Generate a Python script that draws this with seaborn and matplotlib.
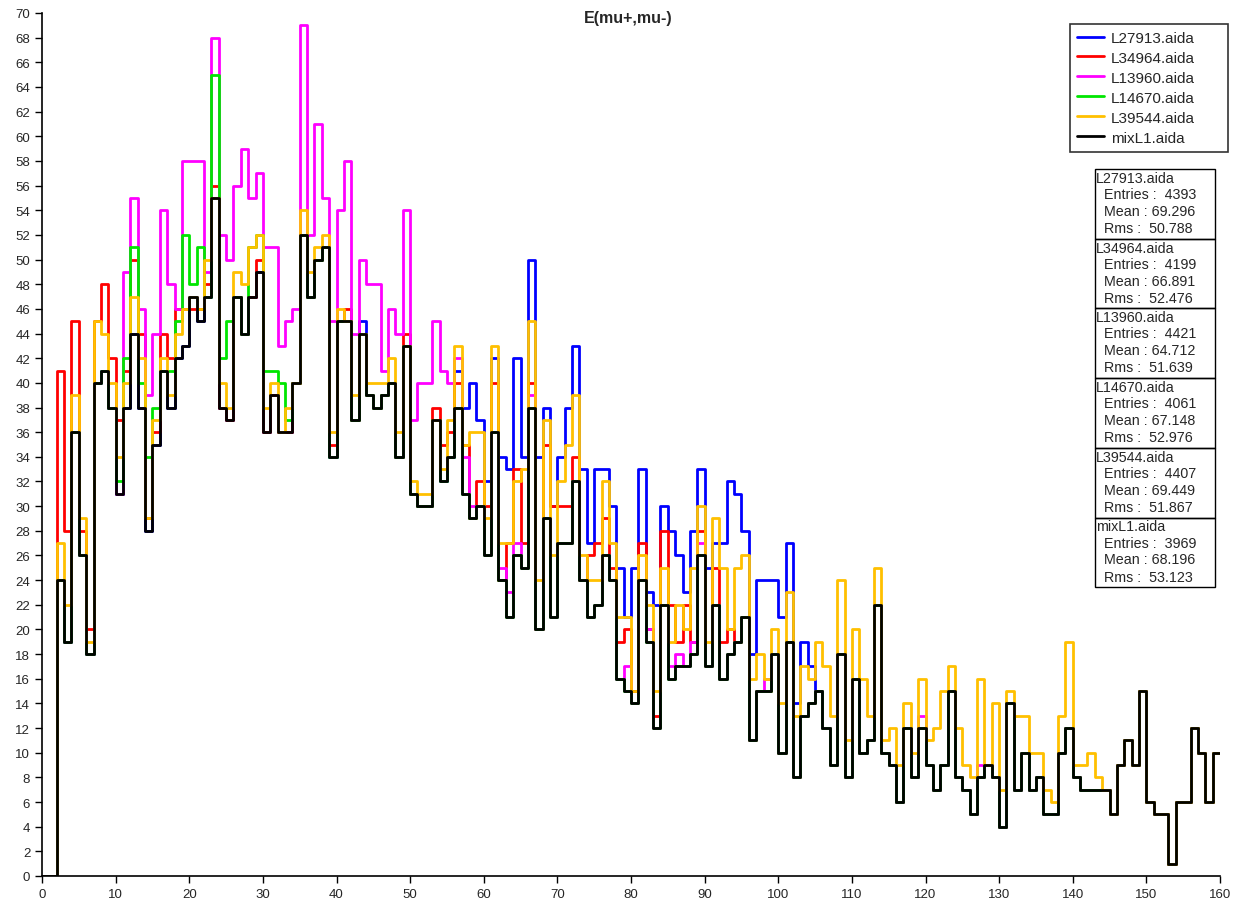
import numpy as np
import pandas as pd
import matplotlib
matplotlib.use("Agg")
import matplotlib.pyplot as plt
import seaborn as sns
from matplotlib.lines import Line2D
from matplotlib.patches import Rectangle

# histogram bins: width 1, from 0 to 160
bin_lo, bin_hi = 0, 160
bin_centers = np.arange(bin_lo, bin_hi) + 0.5

# counts per bin
L27913 = [0, 0, 24, 19, 36, 26, 18, 40, 41, 38, 31, 38, 44, 38, 28, 35, 41, 38, 42, 43,
          47, 45, 47, 55, 38, 37, 47, 44, 47, 49, 36, 39, 36, 36, 40, 52, 47, 50, 51, 34,
          45, 45, 37, 45, 39, 38, 39, 40, 34, 43, 31, 30, 30, 37, 32, 34, 41, 38, 40, 37,
          32, 42, 34, 33, 42, 34, 50, 34, 38, 30, 34, 38, 43, 33, 27, 33, 33, 30, 25, 21,
          25, 33, 23, 22, 30, 28, 26, 23, 28, 33, 25, 27, 27, 32, 31, 28, 18, 24, 24, 24,
          21, 27, 14, 19, 17, 15, 12, 9, 18, 8, 16, 10, 11, 22, 10, 9, 6, 12, 8, 12,
          9, 7, 9, 15, 8, 7, 5, 8, 9, 8, 4, 14, 7, 10, 7, 8, 5, 5, 10, 12,
          8, 7, 7, 7, 7, 5, 9, 11, 9, 15, 6, 5, 5, 1, 6, 6, 12, 10, 6, 10]

L34964 = [0, 0, 41, 28, 45, 28, 20, 45, 48, 42, 37, 41, 50, 44, 29, 36, 44, 42, 46, 46,
          46, 46, 48, 56, 38, 37, 47, 44, 47, 50, 36, 39, 36, 36, 40, 52, 47, 50, 51, 35,
          45, 46, 37, 44, 39, 38, 39, 40, 34, 44, 31, 30, 30, 38, 35, 36, 40, 35, 29, 32,
          30, 40, 24, 27, 33, 27, 40, 20, 35, 30, 30, 30, 34, 24, 26, 27, 29, 25, 19, 20,
          15, 27, 20, 13, 28, 22, 19, 22, 19, 28, 17, 25, 19, 20, 19, 21, 11, 15, 15, 18,
          10, 19, 8, 13, 14, 15, 12, 9, 18, 8, 16, 10, 11, 22, 10, 9, 6, 12, 8, 12,
          9, 7, 9, 15, 8, 7, 5, 8, 9, 8, 4, 14, 7, 10, 7, 8, 5, 5, 10, 12,
          8, 7, 7, 7, 7, 5, 9, 11, 9, 15, 6, 5, 5, 1, 6, 6, 12, 10, 6, 10]

L13960 = [0, 0, 24, 19, 36, 26, 18, 40, 41, 38, 31, 49, 55, 46, 39, 44, 54, 48, 46, 58,
          58, 58, 49, 68, 52, 50, 56, 59, 55, 57, 51, 51, 43, 45, 46, 69, 52, 61, 55, 45,
          54, 58, 44, 50, 48, 48, 41, 46, 44, 54, 37, 40, 40, 45, 41, 40, 42, 34, 30, 30,
          26, 36, 25, 23, 27, 25, 39, 20, 29, 21, 27, 27, 32, 24, 21, 22, 26, 24, 16, 17,
          14, 24, 20, 12, 22, 17, 18, 17, 19, 27, 17, 22, 16, 18, 19, 21, 11, 15, 16, 18,
          10, 19, 8, 13, 14, 15, 12, 9, 18, 8, 16, 10, 11, 22, 10, 9, 6, 12, 8, 13,
          9, 7, 9, 15, 8, 7, 5, 9, 9, 8, 4, 14, 7, 10, 7, 8, 5, 5, 10, 12,
          8, 7, 7, 7, 7, 5, 9, 11, 9, 15, 6, 5, 5, 1, 6, 6, 12, 10, 6, 10]

L14670 = [0, 0, 24, 19, 36, 26, 18, 40, 41, 38, 32, 42, 51, 40, 34, 38, 41, 41, 45, 52,
          48, 51, 47, 65, 42, 45, 47, 44, 51, 52, 41, 41, 40, 37, 40, 52, 47, 50, 51, 34,
          45, 45, 37, 44, 39, 38, 39, 40, 34, 43, 31, 30, 30, 37, 32, 34, 38, 31, 29, 30,
          26, 36, 24, 21, 26, 25, 38, 20, 29, 21, 27, 27, 32, 24, 21, 22, 26, 24, 16, 15,
          14, 24, 19, 12, 22, 16, 17, 17, 18, 26, 17, 22, 16, 18, 19, 21, 11, 15, 15, 18,
          10, 19, 8, 13, 14, 15, 12, 9, 18, 8, 16, 10, 11, 22, 10, 9, 6, 12, 8, 12,
          9, 7, 9, 15, 8, 7, 5, 8, 9, 8, 4, 14, 7, 10, 7, 8, 5, 5, 10, 12,
          8, 7, 7, 7, 7, 5, 9, 11, 9, 15, 6, 5, 5, 1, 6, 6, 12, 10, 6, 10]

L39544 = [0, 0, 27, 22, 39, 29, 19, 45, 44, 40, 34, 40, 47, 42, 29, 37, 42, 39, 44, 46,
          47, 46, 50, 55, 40, 38, 49, 48, 51, 52, 38, 40, 36, 38, 40, 54, 49, 51, 52, 36,
          46, 45, 39, 44, 40, 40, 40, 42, 36, 43, 32, 31, 31, 37, 33, 37, 43, 35, 36, 36,
          29, 43, 27, 27, 32, 33, 45, 24, 37, 26, 32, 35, 39, 26, 24, 24, 32, 27, 21, 21,
          15, 26, 22, 15, 25, 19, 22, 20, 25, 30, 19, 29, 25, 20, 25, 26, 16, 18, 16, 20,
          14, 23, 13, 17, 16, 19, 17, 13, 24, 11, 20, 16, 13, 25, 11, 12, 9, 14, 10, 16,
          11, 12, 15, 17, 12, 9, 8, 16, 9, 14, 7, 15, 13, 13, 10, 10, 7, 6, 13, 19,
          9, 9, 10, 8, 7, 5, 9, 11, 9, 15, 6, 5, 5, 1, 6, 6, 12, 10, 6, 10]

mixL1 = [0, 0, 24, 19, 36, 26, 18, 40, 41, 38, 31, 38, 44, 38, 28, 35, 41, 38, 42, 43,
         47, 45, 47, 55, 38, 37, 47, 44, 47, 49, 36, 39, 36, 36, 40, 52, 47, 50, 51, 34,
         45, 45, 37, 44, 39, 38, 39, 40, 34, 43, 31, 30, 30, 37, 32, 34, 38, 31, 29, 30,
         26, 36, 24, 21, 26, 25, 38, 20, 29, 21, 27, 27, 32, 24, 21, 22, 26, 24, 16, 15,
         14, 24, 19, 12, 22, 16, 17, 17, 18, 26, 17, 22, 16, 18, 19, 21, 11, 15, 15, 18,
         10, 19, 8, 13, 14, 15, 12, 9, 18, 8, 16, 10, 11, 22, 10, 9, 6, 12, 8, 12,
         9, 7, 9, 15, 8, 7, 5, 8, 9, 8, 4, 14, 7, 10, 7, 8, 5, 5, 10, 12,
         8, 7, 7, 7, 7, 5, 9, 11, 9, 15, 6, 5, 5, 1, 6, 6, 12, 10, 6, 10]

names = ["L27913.aida", "L34964.aida", "L13960.aida", "L14670.aida", "L39544.aida", "mixL1.aida"]
counts = [L27913, L34964, L13960, L14670, L39544, mixL1]
colors = ["#0000ff", "#ff0000", "#ff00ff", "#00e600", "#ffc000", "#000000"]

# statistics boxes
entries = [4393, 4199, 4421, 4061, 4407, 3969]
means = [69.296, 66.891, 64.712, 67.148, 69.449, 68.196]
rms = [50.788, 52.476, 51.639, 52.976, 51.867, 53.123]

W, H = 1242, 903
sns.set_style("ticks")
plt.rcParams["font.family"] = ["Liberation Sans", "DejaVu Sans"]

fig = plt.figure(figsize=(W / 100, H / 100), dpi=100)
ax = fig.add_axes([42 / W, 1 - 877 / H, (1220 - 42) / W, (877 - 14) / H])

# draw in legend order, black last on top
for name, vals, col in zip(names, counts, colors):
    df = pd.DataFrame({"x": bin_centers, "n": vals})
    sns.histplot(data=df, x="x", weights="n", binwidth=1, binrange=(bin_lo, bin_hi),
                 element="step", fill=False, color=col, linewidth=2.0, ax=ax)

ax.set_xlim(0, 160)
ax.set_ylim(0, 70)
ax.set_xticks(np.arange(0, 161, 10))
ax.set_yticks(np.arange(0, 71, 2))
ax.set_xlabel("")
ax.set_ylabel("")
ax.tick_params(labelsize=9.5, length=5, width=1, direction="out", color="black")
sns.despine(ax=ax, top=True, right=True)
for s in ["left", "bottom"]:
    ax.spines[s].set_color("black")
    ax.spines[s].set_linewidth(1.2)

def fx(px):
    return px / W

def fy(py):
    return 1 - py / H

fig.text(fx(628), fy(18), "E(mu+,mu-)", ha="center", va="center",
         fontsize=11.5, fontweight="bold")

# legend, stretched to the box width of the original
handles = [Line2D([], [], color=c, lw=2) for c in colors]
leg_h = 127 / H
leg = fig.legend(handles, names, loc="upper left",
                 bbox_to_anchor=(fx(1070), fy(25) - leg_h, fx(158), leg_h), mode="expand",
                 fontsize=11, frameon=True, fancybox=False, edgecolor="black",
                 handlelength=1.8, handletextpad=0.45, labelspacing=0.39,
                 borderpad=0.45, borderaxespad=0)
leg.get_frame().set_linewidth(1.2)

# stats boxes
box_x0, box_x1 = 1095, 1215
box_top, box_h = 170, 69.7
for i, name in enumerate(names):
    top = box_top + i * box_h
    fig.add_artist(Rectangle((fx(box_x0), fy(top + box_h)), fx(box_x1 - box_x0), box_h / H,
                             transform=fig.transFigure, fill=False, edgecolor="black", lw=1.0))
    fig.text(fx(box_x0 + 1), fy(top + 9), name, ha="left", va="center", fontsize=10.3)
    fig.text(fx(box_x0 + 9), fy(top + 25), "Entries :  %d" % entries[i],
             ha="left", va="center", fontsize=10.3)
    fig.text(fx(box_x0 + 9), fy(top + 42), "Mean : %.3f" % means[i],
             ha="left", va="center", fontsize=10.3)
    fig.text(fx(box_x0 + 9), fy(top + 59), "Rms :  %.3f" % rms[i],
             ha="left", va="center", fontsize=10.3)

fig.savefig("out.png", dpi=100)
